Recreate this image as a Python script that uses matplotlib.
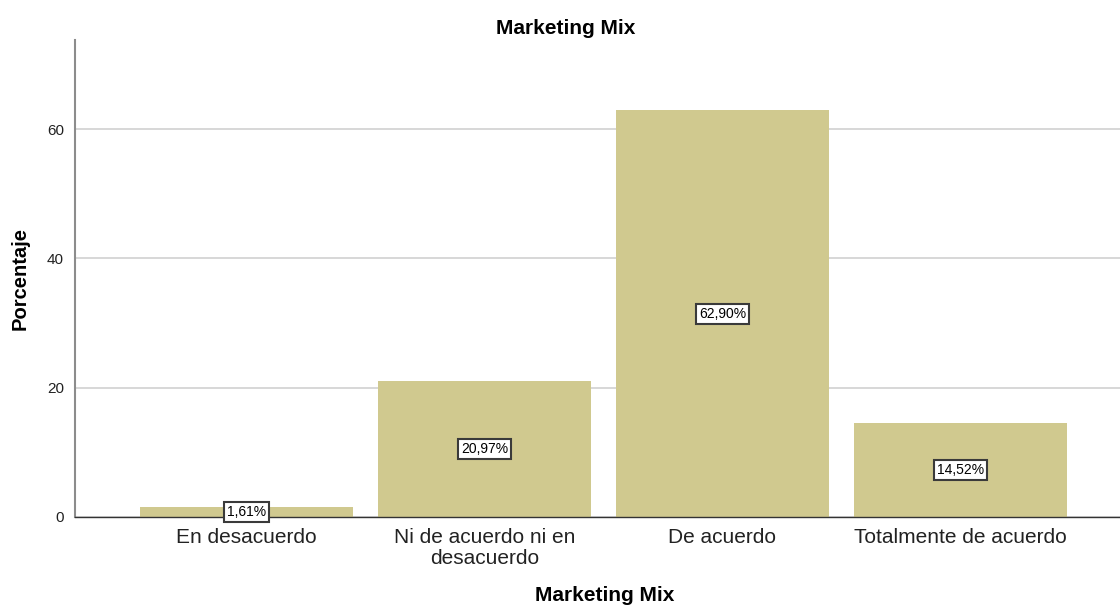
import matplotlib.pyplot as plt

# Datos del gráfico
categorias = ["En desacuerdo", "Ni de acuerdo ni en\ndesacuerdo", "De acuerdo", "Totalmente de acuerdo"]
porcentajes = [1.61, 20.97, 62.90, 14.52]
etiquetas = ["1,61%", "20,97%", "62,90%", "14,52%"]
yticks = [0, 20, 40, 60]

plt.rcParams['font.family'] = ['Liberation Sans', 'DejaVu Sans']

fig = plt.figure(figsize=(11.2, 6.06), dpi=100)
ax = fig.add_axes([75 / 1120, 89 / 606, 1045 / 1120, 477 / 606])

x = list(range(len(categorias)))
ax.bar(x, porcentajes, width=0.897, color='#D0C98F', zorder=2)

# Etiquetas de valor en el centro de cada barra
for xi, v, txt in zip(x, porcentajes, etiquetas):
    ax.text(xi, v / 2, txt, ha='center', va='center', fontsize=10, zorder=3,
            bbox=dict(boxstyle='square,pad=0.22', fc='white', ec='#3a3a3a', lw=1.5))

ax.set_xlim(-0.72, 3.67)
ax.set_ylim(0, 73.8)
ax.set_yticks(yticks)
ax.set_xticks(x)
ax.set_xticklabels(categorias, fontsize=15, color='#222222', linespacing=1.1)
ax.tick_params(axis='y', length=0, labelsize=11, pad=8, colors='#222222')
ax.tick_params(axis='x', length=0, pad=8)

ax.grid(axis='y', color='#D4D4D4', lw=1.3, zorder=0)
for s in ['top', 'right']:
    ax.spines[s].set_visible(False)
ax.spines['left'].set_color('#8C8C8C')
ax.spines['left'].set_linewidth(1.5)
ax.spines['bottom'].set_color('#333333')
ax.spines['bottom'].set_linewidth(1.0)

ax.set_ylabel('Porcentaje', fontsize=14.5, fontweight='bold', va='center')
ax.yaxis.set_label_coords(-0.0526, 0.5)
ax.set_xlabel('Marketing Mix', fontsize=15, fontweight='bold', va='center')
ax.xaxis.set_label_coords(0.5067, -0.1656)
fig.text(566 / 1120, 1 - 28 / 606, 'Marketing Mix', ha='center', va='center',
         fontsize=15, fontweight='bold')

fig.savefig('out.png', dpi=100)
